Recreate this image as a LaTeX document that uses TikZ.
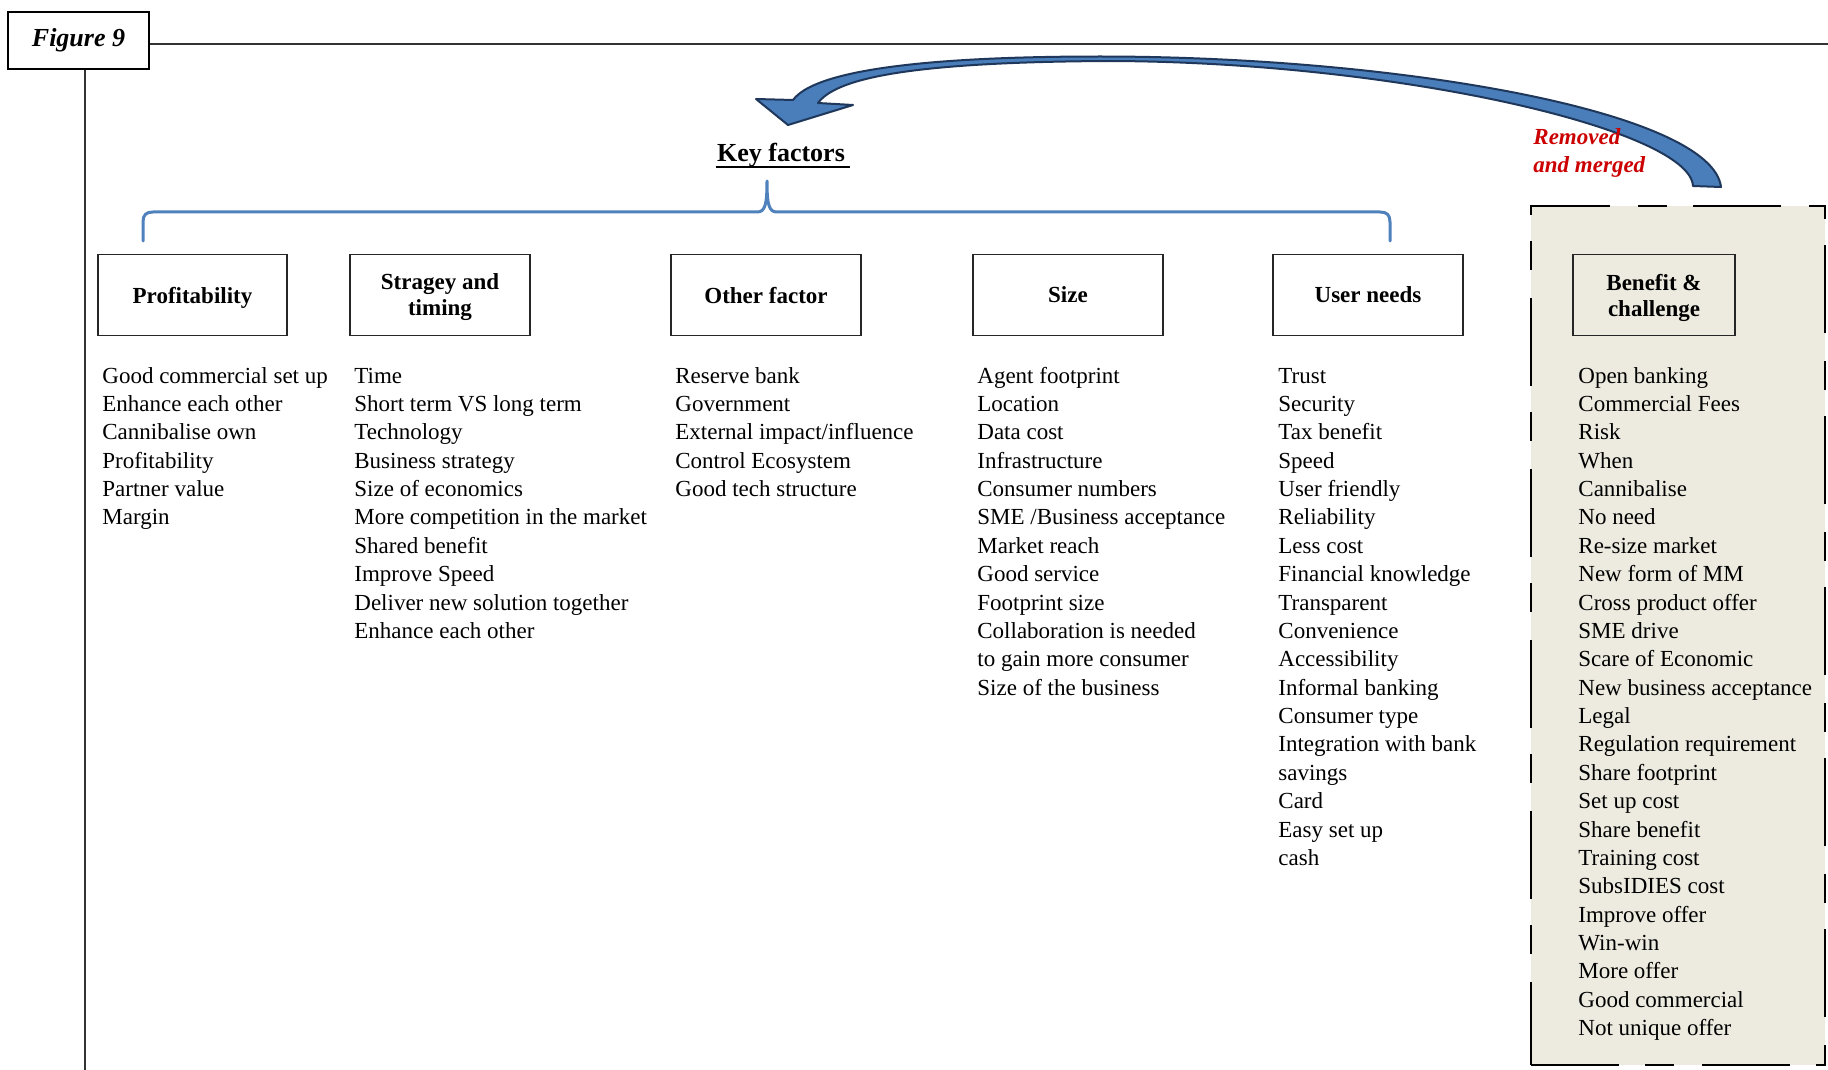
\documentclass[tikz,border=0pt]{standalone}
\usepackage{fontspec}
\setmainfont{Liberation Serif}
\usetikzlibrary{calc}

\definecolor{braceblue}{RGB}{79,129,189}
\definecolor{arrowfill}{RGB}{74,126,186}
\definecolor{arrowedge}{RGB}{30,55,90}
\definecolor{panelfill}{RGB}{237,235,224}
\definecolor{notered}{RGB}{204,0,0}

% one column of items, first baseline at the node position
\newcommand{\itemcolumn}[1]{\begin{tabular}[t]{@{}l@{}}#1\end{tabular}}

\begin{document}
\begin{tikzpicture}[x=0.5pt,y=-0.5pt,
  catbox/.style={draw=black!85, line width=0.75pt, minimum height=40.5pt,
    inner sep=0pt, align=center, text depth=0pt,
    font=\fontsize{11.5pt}{13pt}\selectfont\bfseries},
  itemlist/.style={anchor=base west, inner sep=0pt,
    font=\fontsize{11.5pt}{14.19pt}\selectfont},
  frameline/.style={line width=0.6pt, black!80},
]
\useasboundingbox[fill=white] (0,0) rectangle (1828,1070);

% ---- figure tab and frame lines
\node[draw, line width=1pt, minimum width=70.5pt, minimum height=28.5pt,
  inner sep=0pt, font=\fontsize{13pt}{15pt}\selectfont\bfseries\itshape]
  (fig) at (78.5,40.5) {Figure 9};
\coordinate (topend) at (1828,44);
\coordinate (leftend) at (85,1070);
\draw[frameline] (fig.east |- topend) -- (topend);
\draw[frameline] (fig.south -| leftend) -- (leftend);

% ---- dashed panel on the right
\node[draw=black, fill=panelfill, line width=0.9pt, inner sep=0pt,
  minimum width=147pt, minimum height=429.5pt,
  dash pattern=on 44pt off 13pt on 14.5pt off 14pt]
  (panel) at (1678,635.5) {};

% ---- heading and brace
\node[anchor=base, inner sep=0pt, font=\fontsize{13pt}{15pt}\selectfont\bfseries]
  (kf) at (781,162) {Key factors};
\draw[line width=1pt] ($(kf.base west)+(-1,5.5)$) -- ($(kf.base east)+(5,5.5)$);

\coordinate (braceL) at (143,241);
\coordinate (braceR) at (1390,241);
\coordinate (braceTip) at (767,181);
\draw[braceblue, line width=1.5pt, line cap=round, line join=round]
  (braceL) -- (143,222) .. controls (143,215) and (146,212) .. (153,212)
  -- (757,212) .. controls (765,212) and (767,205) .. (braceTip)
  .. controls (767,205) and (769,212) .. (777,212)
  -- (1380,212) .. controls (1387,212) and (1390,215) .. (1390,222) -- (braceR);

% ---- category boxes
\node[catbox, minimum width=94.5pt] (prof)    at (192.5,295) {Profitability};
\node[catbox, minimum width=90pt]   (strat)   at (440,295)   {Stragey and\\timing};
\node[catbox, minimum width=95pt]   (other)   at (766,295)   {Other factor};
\node[catbox, minimum width=95pt]   (size)    at (1068,295)  {Size};
\node[catbox, minimum width=95pt]   (user)    at (1368,295)  {User needs};
\node[catbox, minimum width=81pt]   (benefit) at (1654,295)  {Benefit \&\\challenge};

% ---- item columns
\node[itemlist] (proflist) at (102,383) {\itemcolumn{%
Good commercial set up\\
Enhance each other\\
Cannibalise own\\
Profitability\\
Partner value\\
Margin}};

\node[itemlist] (stratlist) at (354,383) {\itemcolumn{%
Time\\
Short term VS long term\\
Technology\\
Business strategy\\
Size of economics\\
More competition in the market\\
Shared benefit\\
Improve Speed\\
Deliver new solution together\\
Enhance each other}};

\node[itemlist] (otherlist) at (675,383) {\itemcolumn{%
Reserve bank\\
Government\\
External impact/influence\\
Control Ecosystem\\
Good tech structure}};

\node[itemlist] (sizelist) at (977,383) {\itemcolumn{%
Agent footprint\\
Location\\
Data cost\\
Infrastructure\\
Consumer numbers\\
SME /Business acceptance\\
Market reach\\
Good service\\
Footprint size\\
Collaboration is needed\\
to gain more consumer\\
Size of the business}};

\node[itemlist] (userlist) at (1278,383) {\itemcolumn{%
Trust\\
Security\\
Tax benefit\\
Speed\\
User friendly\\
Reliability\\
Less cost\\
Financial knowledge\\
Transparent\\
Convenience\\
Accessibility\\
Informal banking\\
Consumer type\\
Integration with bank\\
savings\\
Card\\
Easy set up\\
cash}};

\node[itemlist] (benefitlist) at (1578,383) {\itemcolumn{%
Open banking\\
Commercial Fees\\
Risk\\
When\\
Cannibalise\\
No need\\
Re-size market\\
New form of MM\\
Cross product offer\\
SME drive\\
Scare of Economic\\
New business acceptance\\
Legal\\
Regulation requirement\\
Share footprint\\
Set up cost\\
Share benefit\\
Training cost\\
SubsIDIES cost\\
Improve offer\\
Win-win\\
More offer\\
Good commercial\\
Not unique offer}};

% ---- curved block arrow from the panel back to the key factors
\coordinate (tailOut) at (1721,187);
\coordinate (tailIn) at (1693,186);
\coordinate (headTip) at (788,125);
\filldraw[fill=arrowfill, draw=arrowedge, line width=1pt, line join=round]
  (tailOut) .. controls (1712,112) and (1400,56.5) .. (1100,56.5)
  .. controls (980,56.5) and (820,63) .. (793,100)
  -- (756,99) -- (headTip) -- (853,105) -- (818,103)
  .. controls (835,80) and (900,62) .. (1110,61)
  .. controls (1400,62) and (1690,130) .. (tailIn)
  -- cycle;

% ---- note beside the arrow
\node[anchor=base west, inner sep=0pt, text=notered,
  font=\fontsize{11.5pt}{14pt}\selectfont\bfseries\itshape]
  (note) at (1533,145) {\itemcolumn{Removed\\and merged}};

\end{tikzpicture}
\end{document}
